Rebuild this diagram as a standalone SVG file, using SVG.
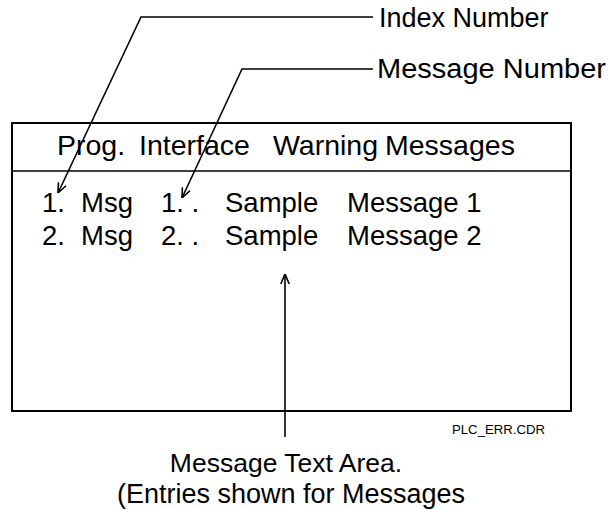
<svg xmlns="http://www.w3.org/2000/svg" width="610" height="510" viewBox="0 0 610 510">
<defs>
<style>
.t{font-family:"Liberation Sans",Arial,sans-serif;fill:#000;}
.hdr{font-size:28.5px;}
.row{font-size:27.5px;}
.lbl{font-size:27px;}
.cap{font-size:26.5px;}
.small{font-size:12px;}
.ln{fill:none;stroke:#000;stroke-width:1.6;}
.box{fill:#fff;stroke:#000;stroke-width:2;}
</style>
<marker id="arr" viewBox="0 0 10 10" refX="10" refY="5" markerWidth="10" markerHeight="10" markerUnits="userSpaceOnUse" orient="auto">
<path d="M0,0.8 L10,5 L0,9.2" fill="none" stroke="#000" stroke-width="1.6"/>
</marker>
</defs>
<rect width="610" height="510" fill="#fff"/>
<g id="window">
<rect class="box" x="12" y="123" width="559" height="288"/>
<line class="ln" x1="12" y1="171" x2="571" y2="171" stroke-width="2"/>
<text class="t hdr" y="155"><tspan x="57">Prog.</tspan><tspan x="139">Interface</tspan><tspan x="273">Warning</tspan><tspan x="385">Messages</tspan></text>
<text class="t row" y="212"><tspan x="42">1.</tspan><tspan x="81">Msg</tspan><tspan x="161">1. .</tspan><tspan x="225">Sample</tspan><tspan x="347">Message 1</tspan></text>
<text class="t row" y="245"><tspan x="42">2.</tspan><tspan x="81">Msg</tspan><tspan x="161">2. .</tspan><tspan x="225">Sample</tspan><tspan x="347">Message 2</tspan></text>
</g>
<g id="label-index">
<text class="t lbl" x="379" y="27">Index Number</text>
</g>
<g id="label-message">
<text class="t lbl" x="377" y="78" textLength="229" lengthAdjust="spacingAndGlyphs">Message Number</text>
</g>
<g id="label-area">
<text class="t cap" x="286" y="472" text-anchor="middle">Message Text Area.</text>
<text class="t lbl" x="291" y="503" text-anchor="middle">(Entries shown for Messages</text>
</g>
<g id="file-name">
<text class="t small" x="452" y="434" textLength="93" lengthAdjust="spacingAndGlyphs">PLC_ERR.CDR</text>
</g>
<g id="connectors">
<polyline class="ln" points="373,17 141,17 58,193" marker-end="url(#arr)"/>
<polyline class="ln" points="373,69 242,69 182,198" marker-end="url(#arr)"/>
<line class="ln" x1="285" y1="437" x2="285" y2="274" marker-end="url(#arr)"/>
</g>
</svg>
